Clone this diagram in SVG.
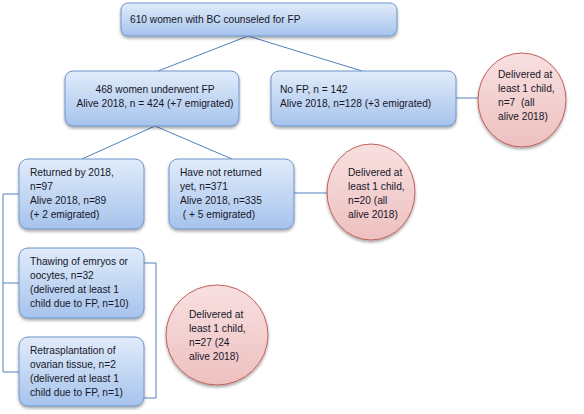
<svg xmlns="http://www.w3.org/2000/svg" width="584" height="414" viewBox="0 0 584 414">
<defs>
<linearGradient id="gBox" x1="0" y1="0" x2="0" y2="1">
<stop offset="0" stop-color="#e1ecfa"/>
<stop offset="1" stop-color="#a6c3ec"/>
</linearGradient>
<linearGradient id="gCirc" x1="0" y1="0" x2="0" y2="1">
<stop offset="0" stop-color="#f8e0e0"/>
<stop offset="1" stop-color="#eec0c0"/>
</linearGradient>
<filter id="sh" x="-20%" y="-20%" width="140%" height="150%">
<feGaussianBlur in="SourceAlpha" stdDeviation="1.5"/>
<feOffset dx="0" dy="2" result="b"/>
<feComponentTransfer><feFuncA type="linear" slope="0.35"/></feComponentTransfer>
<feMerge><feMergeNode/><feMergeNode in="SourceGraphic"/></feMerge>
</filter>
</defs>
<style>
.box{fill:url(#gBox);stroke:#6e94cb;stroke-width:1;filter:url(#sh)}
.circ{fill:url(#gCirc);stroke:#c0605c;stroke-width:1;filter:url(#sh)}
.ln{fill:none;stroke:#4f81bd;stroke-width:1}
text{font-family:"Liberation Sans",Arial,sans-serif;font-size:10.2px;fill:#161628}
.c{text-anchor:middle}
</style>
<rect width="584" height="414" fill="#ffffff"/>
<g id="connectors">
<line class="ln" x1="248" y1="36" x2="158" y2="71"/>
<line class="ln" x1="248" y1="36" x2="362" y2="71"/>
<line class="ln" x1="155" y1="126" x2="82" y2="159"/>
<line class="ln" x1="155" y1="126" x2="232" y2="159"/>
<line class="ln" x1="456" y1="98" x2="478" y2="98"/>
<line class="ln" x1="294" y1="193" x2="327" y2="193"/>
<polyline class="ln" points="19,194 3,194 3,372 19,372"/>
<line class="ln" x1="3" y1="283" x2="19" y2="283"/>
<polyline class="ln" points="144,263 156,263 156,398 144,398"/>
</g>
<g id="n_top">
<rect class="box" x="121" y="3" width="276" height="33" rx="7"/>
<text x="130" y="23">610 women with BC counseled for FP</text>
</g>
<g id="n_fp">
<rect class="box" x="65" y="71" width="174" height="55" rx="8"/>
<text class="c" x="155" y="93">468  women underwent FP</text>
<text class="c" x="155" y="107">Alive 2018, n = 424 (+7 emigrated)</text>
</g>
<g id="n_nofp">
<rect class="box" x="271" y="71" width="185" height="55" rx="8"/>
<text x="280" y="93">No FP, n = 142</text>
<text x="280" y="107">Alive 2018, n=128 (+3 emigrated)</text>
</g>
<g id="c_nofp">
<ellipse class="circ" cx="522" cy="100" rx="44" ry="47"/>
<text x="498" y="78">Delivered at</text>
<text x="498" y="92">least 1 child,</text>
<text x="498" y="106" xml:space="preserve">n=7  (all</text>
<text x="498" y="120">alive 2018)</text>
</g>
<g id="n_returned">
<rect class="box" x="19" y="159" width="125" height="70" rx="9"/>
<text x="30" y="176">Returned by 2018,</text>
<text x="30" y="190">n=97</text>
<text x="30" y="204">Alive 2018, n=89</text>
<text x="30" y="218">(+ 2 emigrated)</text>
</g>
<g id="n_notreturned">
<rect class="box" x="169" y="159" width="125" height="70" rx="9"/>
<text x="180" y="176">Have not returned</text>
<text x="180" y="190">yet, n=371</text>
<text x="180" y="204">Alive 2018, n=335</text>
<text x="180" y="218" xml:space="preserve"> ( + 5 emigrated)</text>
</g>
<g id="c_notreturned">
<ellipse class="circ" cx="371" cy="192" rx="44" ry="48"/>
<text x="348" y="176">Delivered at</text>
<text x="348" y="190">least 1 child,</text>
<text x="348" y="204">n=20 (all</text>
<text x="348" y="218">alive 2018)</text>
</g>
<g id="n_thawing">
<rect class="box" x="19" y="248" width="125" height="70" rx="9"/>
<text x="30" y="265">Thawing of emryos or</text>
<text x="30" y="279">oocytes, n=32</text>
<text x="30" y="293">(delivered at least 1</text>
<text x="30" y="307">child due to FP, n=10)</text>
</g>
<g id="n_retransplant">
<rect class="box" x="19" y="337" width="125" height="69" rx="9"/>
<text x="30" y="354">Retrasplantation of</text>
<text x="30" y="368">ovarian tissue, n=2</text>
<text x="30" y="382">(delivered at least 1</text>
<text x="30" y="396">child due to FP, n=1)</text>
</g>
<g id="c_fp">
<ellipse class="circ" cx="217" cy="335" rx="51" ry="50"/>
<text x="189" y="318">Delivered at</text>
<text x="189" y="332">least 1 child,</text>
<text x="189" y="346">n=27 (24</text>
<text x="189" y="360">alive 2018)</text>
</g>
</svg>
